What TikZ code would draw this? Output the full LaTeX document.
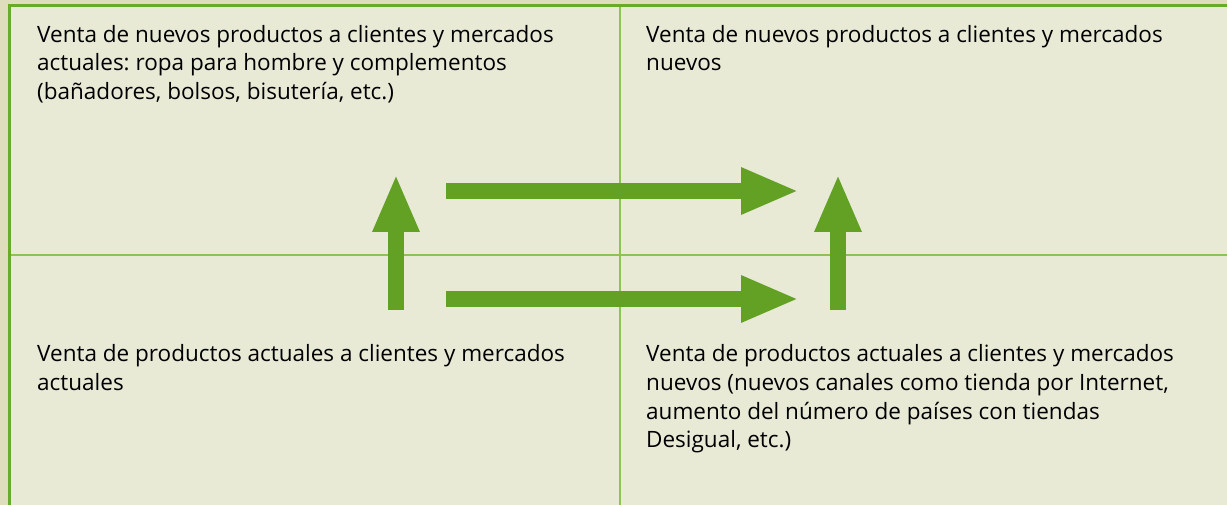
\documentclass[tikz,border=0pt]{standalone}
\usepackage{fontspec}
\setmainfont{Open Sans}
\usetikzlibrary{arrows.meta}
\definecolor{outerbg}{RGB}{222,222,188}
\definecolor{panelbg}{RGB}{232,234,214}
\definecolor{framegreen}{RGB}{106,170,42}
\definecolor{linegreen}{RGB}{141,194,85}
\definecolor{arrowgreen}{RGB}{99,161,36}
\tikzset{
  lbl/.style={anchor=north west, inner sep=0pt, align=left, text=black,
    font=\fontsize{22.5}{28.7}\selectfont\frenchspacing},
  bigarrow/.style={draw=arrowgreen, line width=16pt,
    -{Triangle[length=58pt,width=43pt]}, arrowgreen}
}
\begin{document}
\begin{tikzpicture}[x=1pt,y=-1pt]
\fill[outerbg] (0,0) rectangle (1227,505);
\useasboundingbox (0,0) rectangle (1227,505);
\fill[panelbg] (9.5,5.5) rectangle (1227,505);
\draw[linegreen, line width=1.5pt] (620,5.5) -- (620,505);
\draw[linegreen, line width=1.5pt] (9.5,255) -- (1227,255);
\draw[framegreen, line width=3pt] (9.5,505) -- (9.5,5.5) -- (1227,5.5);

\node[lbl] (tl) at (37,25) {Venta de nuevos productos a clientes y mercados\\actuales: ropa para hombre y complementos\\(bañadores, bolsos, bisutería, etc.)};
\node[lbl] (tr) at (646,25) {Venta de nuevos productos a clientes y mercados\\nuevos};
\node[lbl] (bl) at (37,344.5) {Venta de productos actuales a clientes y mercados\\actuales};
\node[lbl] (br) at (646,344.5) {Venta de productos actuales a clientes y mercados\\nuevos (nuevos canales como tienda por Internet,\\aumento del número de países con tiendas\\Desigual, etc.)};

\coordinate (a1s) at (396,310);
\coordinate (a1e) at (396,174);
\coordinate (a2s) at (838,310);
\coordinate (a2e) at (838,174);
\coordinate (h1s) at (446,191);
\coordinate (h1e) at (799,191);
\coordinate (h2s) at (446,299);
\coordinate (h2e) at (799,299);
\draw[bigarrow] (a1s) -- (a1e);
\draw[bigarrow] (a2s) -- (a2e);
\draw[bigarrow] (h1s) -- (h1e);
\draw[bigarrow] (h2s) -- (h2e);
\end{tikzpicture}
\end{document}
